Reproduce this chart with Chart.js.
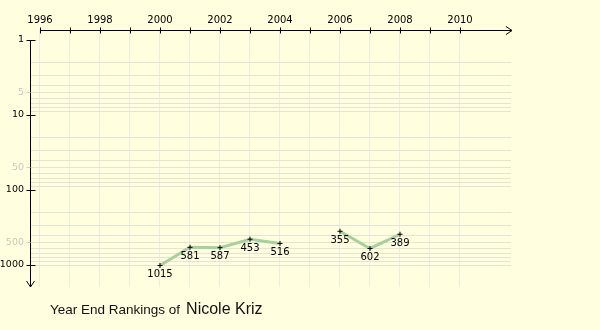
<!DOCTYPE html>
<html>
<head>
<meta charset="utf-8">
<script src="https://cdn.jsdelivr.net/npm/chart.js@4.4.1/dist/chart.umd.min.js"></script>
<style>
  body { margin: 0; background: #ffffe0; }
  #wrap { position: relative; width: 600px; height: 330px; }
  #titel { position: absolute; left: 50px; top: 300px; font-family: "Liberation Sans", Arial, sans-serif; color: #111; white-space: nowrap; }
  #titel .a { font-size: 13.5px; }
  #titel .b { font-size: 16px; margin-left: 6px; }
</style>
</head>
<body>
<div id="wrap">
  <canvas id="rankChart" width="600" height="330"></canvas>
  <div id="titel"><span class="a">Year End Rankings of</span><span class="b">Nicole Kriz</span></div>
</div>
<script>
// data
const years = [2000, 2001, 2002, 2003, 2004, 2005, 2006, 2007, 2008];
const ranks = [1015, 581, 587, 453, 516, null, 355, 602, 389];

// axis ticks
const yearTicks = [1996, 1997, 1998, 1999, 2000, 2001, 2002, 2003, 2004, 2005, 2006, 2007, 2008, 2009, 2010];
const rankTicks = [1, 2, 3, 4, 5, 6, 7, 8, 9, 10, 20, 30, 40, 50, 60, 70, 80, 90, 100, 200, 300, 400, 500, 600, 700, 800, 900, 1000];
const mainRanks = [1, 10, 100, 1000];
const halfRanks = [5, 50, 500];

const tickFont = { family: "DejaVu Sans", size: 10 };

const axisPlugin = {
    id: 'axisPlugin',
    afterDatasetsDraw(chart) {
        const ctx = chart.ctx;
        const xs = chart.scales.x;
        const ys = chart.scales.y;
        const ax = 30.5, ay = 30.5;
        ctx.save();
        ctx.lineWidth = 1;
        ctx.strokeStyle = '#000';

        // x axis on top
        const x0 = Math.round(xs.getPixelForValue(yearTicks[0])) + 0.5;
        ctx.beginPath();
        ctx.moveTo(x0, ay);
        ctx.lineTo(512, ay);
        ctx.moveTo(506, ay - 4);
        ctx.lineTo(512, ay);
        ctx.lineTo(506, ay + 4);
        yearTicks.forEach(y => {
            const px = Math.round(xs.getPixelForValue(y)) + 0.5;
            ctx.moveTo(px, ay - 3);
            ctx.lineTo(px, ay + 3);
        });
        ctx.stroke();

        // y axis on left
        const y0 = Math.round(ys.getPixelForValue(1)) + 0.5;
        ctx.beginPath();
        ctx.moveTo(ax, y0);
        ctx.lineTo(ax, 287);
        ctx.moveTo(ax - 4, 281);
        ctx.lineTo(ax, 287);
        ctx.lineTo(ax + 4, 281);
        mainRanks.forEach(r => {
            const py = Math.round(ys.getPixelForValue(r)) + 0.5;
            ctx.moveTo(ax - 4, py);
            ctx.lineTo(ax + 5, py);
        });
        ctx.stroke();

        ctx.strokeStyle = '#cfcfc4';
        ctx.beginPath();
        halfRanks.forEach(r => {
            const py = Math.round(ys.getPixelForValue(r)) + 0.5;
            ctx.moveTo(ax - 4, py);
            ctx.lineTo(ax, py);
        });
        ctx.stroke();

        // value labels under the points
        const meta = chart.getDatasetMeta(0);
        ctx.fillStyle = '#000';
        ctx.font = '10px "DejaVu Sans"';
        ctx.textAlign = 'center';
        ctx.textBaseline = 'top';
        meta.data.forEach((pt, i) => {
            if (ranks[i] === null) return;
            ctx.fillText(String(ranks[i]), pt.x, pt.y + 4);
        });
        ctx.restore();
    }
};

new Chart(document.getElementById('rankChart'), {
    type: 'line',
    data: {
        labels: years,
        datasets: [{
            data: years.map((y, i) => ({ x: y, y: ranks[i] })),
            borderColor: '#a8d09c',
            borderWidth: 3,
            pointStyle: 'cross',
            pointRadius: 2.5,
            pointBorderColor: '#000',
            pointBorderWidth: 1,
            spanGaps: false,
            tension: 0
        }]
    },
    options: {
        responsive: false,
        animation: false,
        devicePixelRatio: 1,
        layout: { padding: { left: 0, top: 0, right: 89, bottom: 43 } },
        plugins: { legend: { display: false }, tooltip: { enabled: false } },
        scales: {
            x: {
                type: 'linear',
                position: 'top',
                bounds: 'data',
                min: 1996 - 1 / 3,
                max: 2011.7,
                afterBuildTicks: s => { s.ticks = yearTicks.map(v => ({ value: v })); },
                afterFit: s => { s.height = 30; },
                border: { display: false },
                grid: { color: '#ececdf', drawTicks: false },
                ticks: {
                    font: tickFont,
                    color: '#000',
                    padding: 4,
                    maxRotation: 0,
                    autoSkip: false,
                    callback: v => (v % 2 === 0 ? String(v) : '')
                }
            },
            y: {
                type: 'logarithmic',
                reverse: true,
                bounds: 'data',
                min: Math.pow(10, -10 / 75),
                max: Math.pow(10, 247 / 75),
                afterBuildTicks: s => { s.ticks = rankTicks.map(v => ({ value: v })); },
                afterFit: s => { s.width = 30; },
                border: { display: false },
                grid: {
                    drawTicks: false,
                    color: c => ([1, 10, 100].includes(c.tick && c.tick.value) ? 'rgba(0,0,0,0)' : '#e4e4d6')
                },
                ticks: {
                    font: { family: "DejaVu Sans", size: 9.5 },
                    padding: 6,
                    autoSkip: false,
                    color: c => (halfRanks.includes(c.tick.value) ? '#c8c8bc' : '#000'),
                    callback: v => (mainRanks.includes(v) || halfRanks.includes(v) ? String(v) : '')
                }
            }
        }
    },
    plugins: [axisPlugin]
});
</script>
</body>
</html>
